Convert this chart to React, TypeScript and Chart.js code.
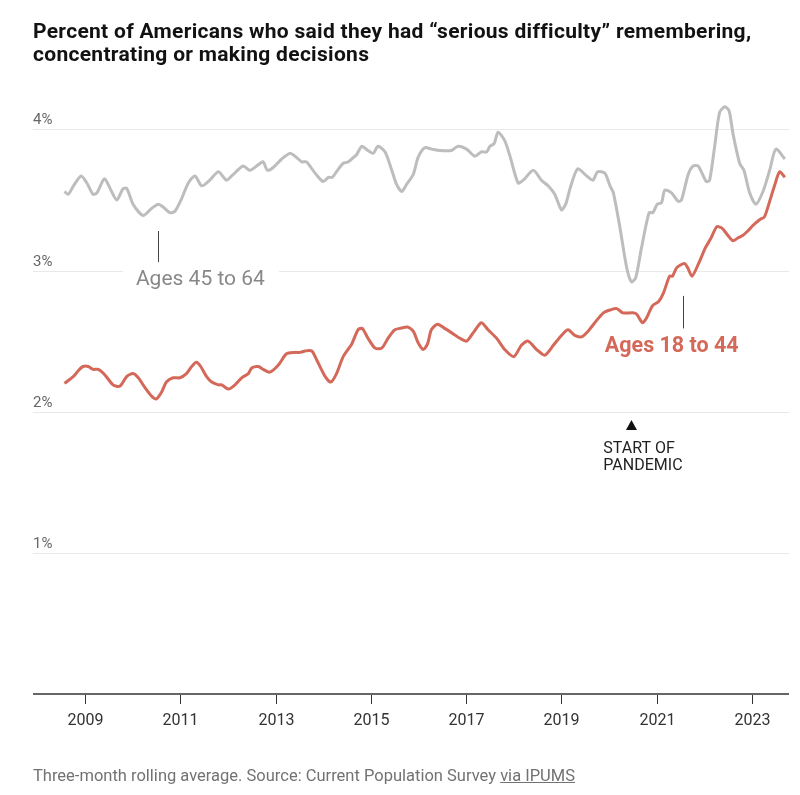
import React, { useEffect, useRef } from "react";
import { Chart, registerables } from "chart.js";

Chart.register(...registerables);

// Ages 45 to 64 (gray) — decimal years and percent values
const olderYears = [
  2008.57, 2008.65, 2008.76, 2008.92, 2009.04, 2009.17, 2009.25, 2009.41, 2009.53, 2009.67,
  2009.8, 2009.88, 2010.01, 2010.22, 2010.4, 2010.54, 2010.64, 2010.78, 2010.89, 2011.03,
  2011.17, 2011.31, 2011.45, 2011.62, 2011.8, 2011.97, 2012.08, 2012.32, 2012.46, 2012.64,
  2012.74, 2012.83, 2012.95, 2013.13, 2013.3, 2013.41, 2013.55, 2013.65, 2013.83, 2014.0,
  2014.11, 2014.19, 2014.28, 2014.42, 2014.53, 2014.63, 2014.7, 2014.81, 2014.94, 2015.05,
  2015.15, 2015.3, 2015.44, 2015.54, 2015.65, 2015.75, 2015.89, 2015.99, 2016.13, 2016.28,
  2016.45, 2016.69, 2016.83, 2017.01, 2017.18, 2017.32, 2017.43, 2017.5, 2017.59, 2017.67,
  2017.81, 2017.92, 2018.09, 2018.2, 2018.41, 2018.58, 2018.72, 2018.86, 2019.0, 2019.09,
  2019.18, 2019.34, 2019.53, 2019.66, 2019.76, 2019.91, 2020.02, 2020.09, 2020.23, 2020.37,
  2020.47, 2020.56, 2020.68, 2020.84, 2020.92, 2021.01, 2021.1, 2021.17, 2021.31, 2021.45,
  2021.52, 2021.66, 2021.76, 2021.87, 2022.04, 2022.11, 2022.22, 2022.32, 2022.43, 2022.52,
  2022.6, 2022.74, 2022.83, 2022.95, 2023.08, 2023.23, 2023.37, 2023.5, 2023.69,
];
const olderValues = [
  3.56, 3.54, 3.6, 3.67, 3.62, 3.54, 3.55, 3.65, 3.58, 3.5,
  3.58, 3.58, 3.47, 3.39, 3.44, 3.47, 3.45, 3.41, 3.42, 3.51,
  3.62, 3.67, 3.6, 3.64, 3.7, 3.64, 3.67, 3.74, 3.71, 3.75,
  3.77, 3.71, 3.73, 3.79, 3.83, 3.81, 3.77, 3.77, 3.69, 3.63,
  3.66, 3.66, 3.7, 3.76, 3.77, 3.8, 3.82, 3.88, 3.85, 3.83,
  3.88, 3.84, 3.71, 3.61, 3.56, 3.61, 3.68, 3.8, 3.87, 3.86,
  3.85, 3.85, 3.88, 3.86, 3.81, 3.84, 3.84, 3.88, 3.9, 3.98,
  3.92, 3.81, 3.62, 3.64, 3.71, 3.64, 3.6, 3.54, 3.43, 3.47,
  3.58, 3.72, 3.67, 3.64, 3.7, 3.69, 3.6, 3.55, 3.3, 3.02,
  2.92, 2.95, 3.16, 3.41, 3.41, 3.47, 3.48, 3.57, 3.55, 3.49,
  3.5, 3.68, 3.74, 3.74, 3.63, 3.64, 3.89, 4.12, 4.16, 4.13,
  3.97, 3.76, 3.71, 3.55, 3.47, 3.56, 3.71, 3.86, 3.79,
];

// Ages 18 to 44 (red)
const youngerYears = [
  2008.57, 2008.76, 2008.86, 2008.96, 2009.07, 2009.17, 2009.28, 2009.42, 2009.59, 2009.73,
  2009.88, 2010.01, 2010.12, 2010.26, 2010.4, 2010.5, 2010.61, 2010.71, 2010.85, 2010.99,
  2011.13, 2011.24, 2011.34, 2011.43, 2011.55, 2011.66, 2011.8, 2011.87, 2012.01, 2012.15,
  2012.29, 2012.43, 2012.5, 2012.64, 2012.74, 2012.88, 2013.06, 2013.23, 2013.41, 2013.51,
  2013.62, 2013.76, 2013.86, 2014.04, 2014.16, 2014.28, 2014.42, 2014.6, 2014.73, 2014.82,
  2014.94, 2015.09, 2015.23, 2015.36, 2015.5, 2015.61, 2015.77, 2015.89, 2015.99, 2016.1,
  2016.19, 2016.27, 2016.4, 2016.55, 2016.69, 2016.87, 2017.01, 2017.15, 2017.32, 2017.46,
  2017.64, 2017.81, 2018.0, 2018.16, 2018.3, 2018.48, 2018.65, 2018.83, 2019.0, 2019.14,
  2019.28, 2019.42, 2019.56, 2019.7, 2019.88, 2020.02, 2020.16, 2020.29, 2020.5, 2020.58,
  2020.7, 2020.78, 2020.91, 2021.04, 2021.14, 2021.27, 2021.33, 2021.42, 2021.58, 2021.65,
  2021.74, 2021.88, 2022.02, 2022.14, 2022.26, 2022.37, 2022.49, 2022.6, 2022.7, 2022.81,
  2022.91, 2023.02, 2023.16, 2023.26, 2023.37, 2023.48, 2023.58, 2023.69,
];
const youngerValues = [
  2.2, 2.25, 2.29, 2.32, 2.32, 2.3, 2.3, 2.26, 2.19, 2.18,
  2.25, 2.27, 2.24, 2.17, 2.11, 2.09, 2.14, 2.21, 2.24, 2.24,
  2.27, 2.32, 2.35, 2.32, 2.25, 2.21, 2.19, 2.19, 2.16, 2.19,
  2.24, 2.27, 2.31, 2.32, 2.3, 2.28, 2.33, 2.41, 2.42, 2.42,
  2.43, 2.43, 2.37, 2.25, 2.21, 2.27, 2.39, 2.48, 2.58, 2.59,
  2.52, 2.45, 2.45, 2.52, 2.58, 2.59, 2.6, 2.57, 2.49, 2.44,
  2.48, 2.58, 2.62, 2.59, 2.56, 2.52, 2.5, 2.56, 2.63, 2.58,
  2.52, 2.44, 2.39, 2.47, 2.5, 2.44, 2.4, 2.47, 2.54, 2.58,
  2.54, 2.53, 2.57, 2.63, 2.7, 2.72, 2.73, 2.7, 2.7, 2.69,
  2.63, 2.66, 2.75, 2.78, 2.84, 2.96, 2.96, 3.02, 3.05, 3.02,
  2.96, 3.05, 3.16, 3.23, 3.31, 3.3, 3.25, 3.21, 3.23, 3.25,
  3.28, 3.32, 3.36, 3.38, 3.49, 3.61, 3.7, 3.66,
];

const xTickYears = [2009, 2011, 2013, 2015, 2017, 2019, 2021, 2023];
const yTickValues = [1, 2, 3, 4];

const FONT = "Roboto, 'Liberation Sans', Arial, sans-serif";
const GRAY = "#bdbdbd";
const RED = "#d4695a";

const decorPlugin = {
  id: "decor",
  beforeDatasetsDraw(chart: any) {
    const { ctx, chartArea, scales } = chart;
    const x = scales.x;
    const y = scales.y;
    ctx.save();
    // y gridlines + labels
    yTickValues.forEach((v) => {
      const py = Math.round(y.getPixelForValue(v)) + 0.5;
      ctx.strokeStyle = "#e9e9e9";
      ctx.lineWidth = 1;
      ctx.beginPath();
      ctx.moveTo(chartArea.left, py);
      ctx.lineTo(chartArea.right, py);
      ctx.stroke();
      ctx.fillStyle = "#666";
      ctx.font = `15px ${FONT}`;
      ctx.textAlign = "left";
      ctx.textBaseline = "alphabetic";
      ctx.fillText(`${v}%`, chartArea.left, py - 6);
    });
    // white box behind gray label (breaks the gridline)
    ctx.fillStyle = "#ffffff";
    ctx.fillRect(x.getPixelForValue(2009.8), y.getPixelForValue(3.1), 156, 30);
    // x axis line
    const base = y.getPixelForValue(0);
    ctx.strokeStyle = "#666";
    ctx.lineWidth = 2;
    ctx.beginPath();
    ctx.moveTo(chartArea.left, base);
    ctx.lineTo(chartArea.right, base);
    ctx.stroke();
    // ticks and labels
    ctx.strokeStyle = "#333";
    ctx.lineWidth = 1;
    ctx.fillStyle = "#333";
    ctx.font = `16px ${FONT}`;
    ctx.textAlign = "center";
    xTickYears.forEach((yr) => {
      const px = Math.round(x.getPixelForValue(yr)) + 0.5;
      ctx.beginPath();
      ctx.moveTo(px, base + 1);
      ctx.lineTo(px, base + 10);
      ctx.stroke();
      ctx.fillText(String(yr), px, base + 31);
    });
    ctx.restore();
  },
  afterDatasetsDraw(chart: any) {
    const { ctx, scales } = chart;
    const x = scales.x;
    const y = scales.y;
    ctx.save();
    ctx.textAlign = "left";
    ctx.textBaseline = "alphabetic";
    // Gray label
    const gx = Math.round(x.getPixelForValue(2010.54)) + 0.5;
    ctx.strokeStyle = "#444";
    ctx.lineWidth = 1;
    ctx.beginPath();
    ctx.moveTo(gx, y.getPixelForValue(3.28));
    ctx.lineTo(gx, y.getPixelForValue(3.06));
    ctx.stroke();
    ctx.fillStyle = "#888";
    ctx.font = `21px ${FONT}`;
    ctx.fillText("Ages 45 to 64", x.getPixelForValue(2010.07), y.getPixelForValue(2.9));
    // Red label
    const rx = Math.round(x.getPixelForValue(2021.56)) + 0.5;
    ctx.strokeStyle = "#444";
    ctx.beginPath();
    ctx.moveTo(rx, y.getPixelForValue(2.82));
    ctx.lineTo(rx, y.getPixelForValue(2.59));
    ctx.stroke();
    ctx.fillStyle = RED;
    ctx.font = `bold 21.5px ${FONT}`;
    ctx.fillText("Ages 18 to 44", x.getPixelForValue(2019.91), y.getPixelForValue(2.42));
    // Pandemic marker
    const px = x.getPixelForValue(2020.47);
    const ty = y.getPixelForValue(1.905);
    ctx.fillStyle = "#111";
    ctx.beginPath();
    ctx.moveTo(px, ty - 5);
    ctx.lineTo(px + 5.5, ty + 5);
    ctx.lineTo(px - 5.5, ty + 5);
    ctx.closePath();
    ctx.fill();
    ctx.fillStyle = "#222";
    ctx.font = `16px ${FONT}`;
    const lx = x.getPixelForValue(2019.88);
    ctx.fillText("START OF", lx, ty + 28);
    ctx.fillText("PANDEMIC", lx, ty + 45);
    ctx.restore();
  },
};

export default function App() {
  const ref = useRef<HTMLCanvasElement | null>(null);
  useEffect(() => {
    document.body.style.margin = "0";
    if (!ref.current) return;
    const chart = new Chart(ref.current, {
      type: "line",
      data: {
        datasets: [
          {
            label: "Ages 45 to 64",
            data: olderYears.map((yr, i) => ({ x: yr, y: olderValues[i] })),
            borderColor: GRAY,
            borderWidth: 3,
            pointRadius: 0,
            tension: 0.25,
          },
          {
            label: "Ages 18 to 44",
            data: youngerYears.map((yr, i) => ({ x: yr, y: youngerValues[i] })),
            borderColor: RED,
            borderWidth: 3,
            pointRadius: 0,
            tension: 0.25,
          },
        ],
      },
      options: {
        animation: false,
        responsive: false,
        devicePixelRatio: 1,
        layout: { padding: { left: 33, right: 11, top: 87, bottom: 101 } },
        plugins: { legend: { display: false }, tooltip: { enabled: false } },
        scales: {
          x: { type: "linear", min: 2007.91, max: 2023.776, display: false },
          y: { type: "linear", min: 0, max: 4.3, display: false },
        },
      },
      plugins: [decorPlugin],
    });
    return () => chart.destroy();
  }, []);
  return (
    <div style={{ position: "relative", width: 800, height: 795, background: "#fff", overflow: "hidden" }}>
      <canvas ref={ref} width={800} height={795} style={{ position: "absolute", left: 0, top: 0 }} />
      <div
        style={{
          position: "absolute",
          left: 33,
          top: 20,
          fontFamily: FONT,
          fontWeight: 700,
          fontSize: 21,
          letterSpacing: "0.3px",
          lineHeight: "23px",
          color: "#121212",
          whiteSpace: "nowrap",
        }}
      >
        Percent of Americans who said they had “serious difficulty” remembering,
        <br />
        concentrating or making decisions
      </div>
      <div
        style={{
          position: "absolute",
          left: 33,
          top: 766,
          fontFamily: FONT,
          fontSize: 16.5,
          lineHeight: "20px",
          color: "#727272",
          whiteSpace: "nowrap",
        }}
      >
        Three-month rolling average. Source: Current Population Survey{" "}
        <span style={{ textDecoration: "underline" }}>via IPUMS</span>
      </div>
    </div>
  );
}
